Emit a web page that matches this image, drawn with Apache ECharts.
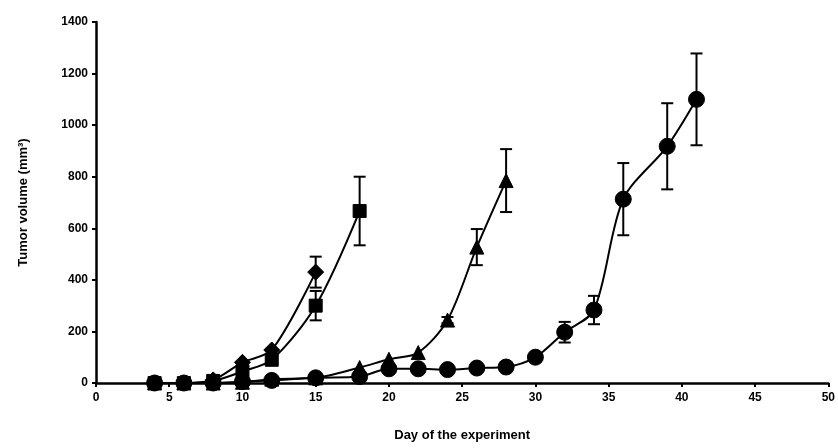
<!DOCTYPE html>
<html><head><meta charset="utf-8">
<script src="https://cdn.jsdelivr.net/npm/echarts@6/dist/echarts.min.js"></script>
<style>html,body{margin:0;padding:0;background:#fff}#c{width:838px;height:448px}</style>
</head><body><div id="c"></div>
<script>
// X ticks / Y ticks
const xTicks = [0,5,10,15,20,25,30,35,40,45,50];
const yTicks = [0,200,400,600,800,1000,1200,1400];

// Diamonds
const diamondDays = [4,6,8,10,12,15];
const diamondVals = [0,0,12,80,128,430];
const diamondErr  = [0,0,0,0,0,60];
// Squares
const squareDays = [4,6,8,10,12,15,18];
const squareVals = [0,0,8,45,90,300,667];
const squareErr  = [0,0,0,0,0,57,133];
// Triangles
const triangleDays = [4,6,8,10,12,15,18,20,22,24,26,28];
const triangleVals = [0,0,0,3,15,20,60,92,118,244,527,785];
const triangleErr  = [0,0,0,0,0,0,0,0,0,12,70,122];
// Circles
const circleDays = [4,6,8,10,12,15,18,20,22,24,26,28,30,32,34,36,39,41];
const circleVals = [0,0,0,5,10,20,25,55,55,52,58,62,100,197,283,713,918,1100];
const circleErr  = [0,0,0,0,0,0,0,0,0,0,0,0,12,40,55,140,167,178];

const chart = echarts.init(document.getElementById('c'), null, {renderer:'canvas'});
const FONT = 'Liberation Sans';

function pts(d, v){ return d.map((x,i)=>[x, v[i]]); }
function errs(d, v, e){ return d.map((x,i)=>[x, v[i]-e[i], v[i]+e[i], e[i]]).filter(r=>r[3]>0); }

function errSeries(data){
  return {
    type:'custom', data:data, z:1, silent:true,
    renderItem:function(params, api){
      const x = api.value(0);
      const lo = api.coord([x, api.value(1)]);
      const hi = api.coord([x, api.value(2)]);
      const cw = 6;
      const st = {stroke:'#000', lineWidth:2};
      return {type:'group', children:[
        {type:'line', shape:{x1:lo[0],y1:lo[1],x2:hi[0],y2:hi[1]}, style:st},
        {type:'line', shape:{x1:lo[0]-cw,y1:lo[1],x2:lo[0]+cw,y2:lo[1]}, style:st},
        {type:'line', shape:{x1:hi[0]-cw,y1:hi[1],x2:hi[0]+cw,y2:hi[1]}, style:st}
      ]};
    }
  };
}

function lineSeries(name, data, symbol, size){
  return {
    name:name, type:'line', data:data, smooth:0.3, symbol:symbol, symbolSize:size,
    showAllSymbol:true, z:3,
    lineStyle:{color:'#000', width:2}, itemStyle:{color:'#000', borderColor:'#000'}
  };
}

chart.setOption({
  animation:false,
  backgroundColor:'#fff',
  grid:{left:96, top:22, width:735, height:361, containLabel:false},
  xAxis:{
    type:'value', min:0, max:50, interval:5,
    name:'Day of the experiment', nameLocation:'middle', nameGap:46,
    nameTextStyle:{fontFamily:FONT, fontWeight:'bold', fontSize:13, color:'#000'},
    axisLine:{show:true, onZero:false, lineStyle:{color:'#000', width:2.5}},
    axisTick:{show:true, length:4, lineStyle:{color:'#000', width:2}},
    axisLabel:{fontFamily:FONT, fontWeight:'bold', fontSize:12, color:'#000', margin:9,
      formatter:function(v){ return xTicks.indexOf(v)>=0 ? String(v) : ''; }},
    splitLine:{show:false}
  },
  yAxis:{
    type:'value', min:0, max:1400, interval:200,
    name:'Tumor volume (mm³)', nameLocation:'middle', nameGap:66,
    nameTextStyle:{fontFamily:FONT, fontWeight:'bold', fontSize:13, color:'#000'},
    axisLine:{show:true, lineStyle:{color:'#000', width:2.5}},
    axisTick:{show:true, length:4, lineStyle:{color:'#000', width:2}},
    axisLabel:{fontFamily:FONT, fontWeight:'bold', fontSize:12, color:'#000', margin:8,
      formatter:function(v){ return yTicks.indexOf(v)>=0 ? String(v) : ''; }},
    splitLine:{show:false}
  },
  series:[
    errSeries(errs(diamondDays, diamondVals, diamondErr)),
    errSeries(errs(squareDays, squareVals, squareErr)),
    errSeries(errs(triangleDays, triangleVals, triangleErr)),
    errSeries(errs(circleDays, circleVals, circleErr)),
    lineSeries('circle', pts(circleDays, circleVals), 'circle', 16),
    lineSeries('triangle', pts(triangleDays, triangleVals), 'triangle', 14),
    lineSeries('square', pts(squareDays, squareVals), 'rect', 13),
    lineSeries('diamond', pts(diamondDays, diamondVals), 'diamond', 16)
  ]
});
</script></body></html>
